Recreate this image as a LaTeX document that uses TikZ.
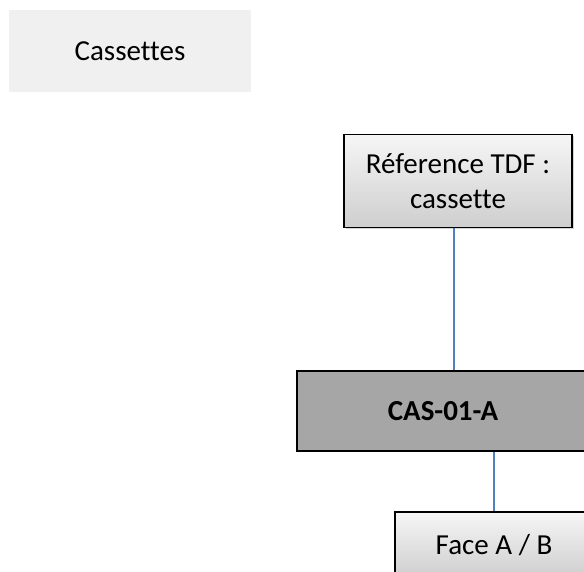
\documentclass[tikz,border=0pt]{standalone}
\usepackage{fontspec}
\setmainfont{Carlito}[Ligatures=NoCommon]
\usepackage{xcolor}
\usepackage{tikz}
\usetikzlibrary{positioning,shadows}
\definecolor{panelgray}{RGB}{240,240,240}
\definecolor{casgray}{RGB}{166,166,166}
\definecolor{topgray}{RGB}{246,246,246}
\definecolor{botgray}{RGB}{206,206,206}
\definecolor{linkblue}{RGB}{79,129,189}
\tikzset{
  titlebox/.style={fill=panelgray, minimum width=242pt, minimum height=82pt,
    inner sep=0pt, align=center},
  refbox/.style={draw=black, line width=1.5pt, top color=topgray, bottom color=botgray,
    minimum width=228pt, minimum height=93pt, inner sep=0pt, align=center,
    drop shadow={shadow xshift=2pt, shadow yshift=-2pt, opacity=0.35}},
  casbox/.style={draw=black, line width=1.5pt, fill=casgray,
    minimum width=292pt, minimum height=80pt, inner sep=0pt, align=center},
  link/.style={draw=linkblue, line width=1.2pt}
}

\begin{document}
\begin{tikzpicture}[x=1pt, y=-1pt, font=\fontsize{29}{35}\selectfont]
\useasboundingbox (0,0) rectangle (584,572);
\clip (0,0) rectangle (584,572);

\node[titlebox] (title) at (130,51) {Cassettes};
\node[refbox] (ref) at (458,181) {Réference TDF :\\cassette};
\node[casbox] (cas) at (443,411) {\bfseries CAS-01-A};
\node[refbox, minimum width=198pt, minimum height=66pt] (face) at (494,545) {Face A / B};

\draw[link] ([xshift=-4pt]ref.south) -- ([xshift=-4pt]ref.south |- cas.north);
\draw[link] (face.north |- cas.south) -- (face.north);
\end{tikzpicture}
\end{document}
